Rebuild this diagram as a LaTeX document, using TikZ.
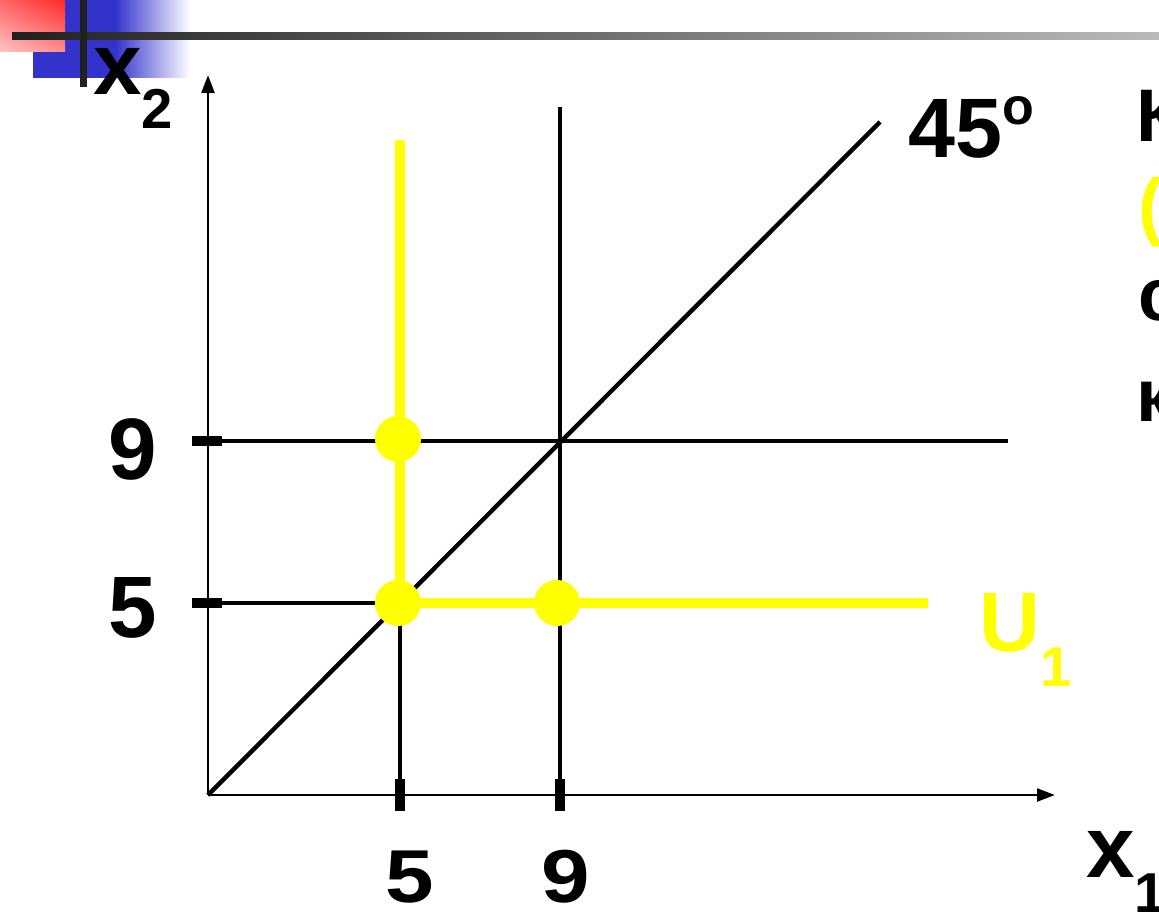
\documentclass[tikz,border=0pt]{standalone}
\usepackage{fontspec}
\setmainfont{Liberation Sans}
\usetikzlibrary{arrows.meta,positioning,shadings}
\usepackage{xcolor}
\definecolor{slidered}{HTML}{FF2A2A}
\definecolor{slidepink}{HTML}{FFC4C4}
\definecolor{slideblue}{HTML}{3333CC}
\definecolor{uyellow}{HTML}{FFFF00}
\newcommand{\subsize}{\fontsize{40}{44}\selectfont}
\tikzset{
  axis/.style={line width=2.1pt, -{Triangle[length=0.45cm,width=0.32cm]}},
  guide/.style={line width=3.1pt},
  tickmark/.style={line width=7.2pt},
  ucurve/.style={draw=uyellow, line width=7pt},
  bundle/.style={circle, fill=uyellow, minimum size=1.15cm, inner sep=0pt},
  lbl/.style={inner sep=0pt, font=\bfseries\fontsize{53}{60}\selectfont},
  numlbl/.style={inner sep=0pt, font=\bfseries\fontsize{62}{68}\selectfont},
  biglbl/.style={inner sep=0pt, font=\bfseries\fontsize{60}{66}\selectfont},
  varlbl/.style={inner sep=0pt, font=\bfseries\fontsize{62}{68}\selectfont}
}

\begin{document}
\begin{tikzpicture}[x=0.025cm, y=-0.025cm]
  \path[use as bounding box, clip] (0,0) rectangle (1159,912);
  % slide corner
  \fill[slideblue] (33,0) rectangle (116,78);
  \shade[left color=slideblue, right color=white] (115,0) rectangle (190,78);
  \shade[upper left=red!60!white, upper right=slidered, lower left=slidepink, lower right=red!45!white] (0,0) rectangle (65,52);
  \shade[left color=black!87, right color=black!27] (12,33) rectangle (1159,40);
  \fill[black!87] (80,0) rectangle (87,87);

  % axes
  \coordinate (O) at (208,795);
  \coordinate (ytop) at (208,75);
  \coordinate (xend) at (1055,795);
  \draw[axis] (O) -- (ytop);
  \draw[axis] (O) -- (xend);

  % guide lines
  \coordinate (diag) at (880,122);
  \coordinate (v9top) at (560,107);
  \coordinate (v9bot) at (560,795);
  \coordinate (h9l) at (220,441);
  \coordinate (h9r) at (1008,441);
  \coordinate (h5l) at (220,603);
  \coordinate (c55) at (400,603);
  \coordinate (v5bot) at (400,795);
  \draw[guide] (O) -- (diag);
  \draw[guide] (v9top) -- (v9bot);
  \draw[guide] (h9l) -- (h9r);
  \draw[guide] (h5l) -- (c55) -- (v5bot);

  % ticks
  \draw[tickmark] (192,441) -- (222,441);
  \draw[tickmark] (192,603) -- (222,603);
  \draw[tickmark] (400,779) -- (400,811);
  \draw[tickmark] (560,779) -- (560,811);

  % indifference curve
  \coordinate (utop) at (400,140);
  \coordinate (uend) at (928,603);
  \draw[ucurve] (utop) -- (c55) -- (uend);
  \node[bundle] (b59) at (398,439) {};
  \node[bundle] (b55) at (398,603) {};
  \node[bundle] (b95) at (557,603) {};

  % labels
  \node[numlbl, anchor=base] (y9) at (133,479) {9};
  \node[numlbl, anchor=base] (y5) at (133,637) {5};
  \node[numlbl, anchor=base] (x5) at (410,902) {\scalebox{1}[0.86]{5}};
  \node[numlbl, anchor=base] (x9) at (566,902) {\scalebox{1}[0.86]{9}};
  \node[biglbl, anchor=base west] (deg) at (908,158) {45\raisebox{23.5pt}{\fontsize{37}{40}\selectfont o}};
  \node[biglbl, anchor=base west, text=uyellow] (u1) at (979,651) {U\raisebox{-25pt}{\subsize 1}};
  \node[varlbl, anchor=base west] (x2) at (93,95) {x\raisebox{-23.5pt}{\subsize 2}};
  \node[varlbl, anchor=base west] (x1) at (1086,877) {x\raisebox{-25pt}{\subsize 1}};

  % cut-off text at the right
  \node[lbl, anchor=base west] (t1) at (1136,142) {К};
  \node[lbl, anchor=base west, text=uyellow] (t2) at (1138,232) {(};
  \node[lbl, anchor=base west] (t3) at (1138,321) {с};
  \node[lbl, anchor=base west] (t4) at (1136,422) {к};
\end{tikzpicture}
\end{document}
